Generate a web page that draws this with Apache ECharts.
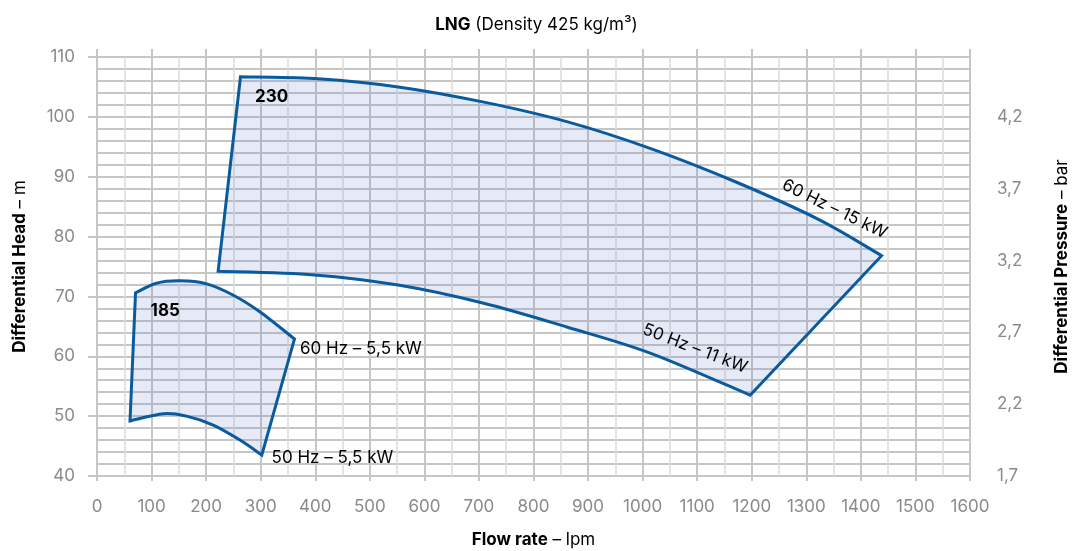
<!DOCTYPE html>
<html>
<head>
<meta charset="utf-8">
<script src="https://cdn.jsdelivr.net/npm/echarts@6/dist/echarts.min.js"></script>
<style>
html,body{margin:0;padding:0;background:#fff;}
#chart{width:1073px;height:551px;}
</style>
</head>
<body>
<div id="chart"></div>
<script>
// ---- data ----
const flowTop230 = [263, 398, 552, 707, 861, 1015, 1169, 1324, 1438];
const headTop230 = [106.7, 106.4, 105.0, 102.5, 99.2, 94.7, 89.2, 82.8, 76.8];
const flowBottom230 = [222, 398, 552, 707, 861, 1015, 1197];
const headBottom230 = [74.2, 73.6, 71.9, 68.9, 64.9, 60.5, 53.5];

const flowTop185 = [70.6, 109, 152, 201, 250, 299, 362];
const headTop185 = [70.6, 72.2, 72.6, 72.1, 70.2, 67.4, 62.9];
const flowBottom185 = [60.5, 122, 164, 213, 262, 302];
const headBottom185 = [49.2, 50.4, 50.0, 48.5, 46.0, 43.5];

const pressureTicks = [1.7, 2.2, 2.7, 3.2, 3.7, 4.2];

const labelTexts = ['230', '185', '60 Hz – 5,5 kW', '50 Hz – 5,5 kW', '60 Hz – 15 kW', '50 Hz – 11 kW'];
const labelFlow = [320, 125, 372, 320, 1352, 1096];
const labelHead = [103.4, 67.6, 61.2, 43.0, 84.6, 61.3];

// ---- helpers ----
const FONT = 'Inter, "Noto Sans", sans-serif';
const GRID_C = '#c6c6c6';
const LINE_C = '#0a5a9e';

function zip(a, b) { return a.map((v, i) => [v, b[i]]); }

function bezierPath(pts) {
  let d = '';
  for (let i = 0; i < pts.length - 1; i++) {
    const p0 = pts[i - 1] || pts[i];
    const p1 = pts[i];
    const p2 = pts[i + 1];
    const p3 = pts[i + 2] || p2;
    const c1 = [p1[0] + (p2[0] - p0[0]) / 6, p1[1] + (p2[1] - p0[1]) / 6];
    const c2 = [p2[0] - (p3[0] - p1[0]) / 6, p2[1] - (p3[1] - p1[1]) / 6];
    d += ' C' + c1[0] + ',' + c1[1] + ' ' + c2[0] + ',' + c2[1] + ' ' + p2[0] + ',' + p2[1];
  }
  return d;
}

function envelopeSeries(topQ, topH, botQ, botH) {
  const top = zip(topQ, topH);
  const bot = zip(botQ, botH);
  return {
    type: 'custom',
    silent: true,
    data: [top[0]],
    renderItem: function (params, api) {
      const tp = top.map(p => api.coord(p));
      const bp = bot.map(p => api.coord(p)).reverse();
      let d = 'M' + tp[0][0] + ',' + tp[0][1];
      d += bezierPath(tp);
      d += ' L' + bp[0][0] + ',' + bp[0][1];
      d += bezierPath(bp);
      d += ' Z';
      return {
        type: 'path',
        shape: { pathData: d },
        style: {
          fill: 'rgba(100,130,200,0.17)',
          stroke: LINE_C,
          lineWidth: 3,
          lineJoin: 'miter'
        }
      };
    }
  };
}

const labelData = labelTexts.map((t, i) => {
  const item = { name: t, value: [labelFlow[i], labelHead[i]] };
  if (i < 2) {
    item.label = { position: 'inside', fontWeight: 'bold', fontSize: 17 };
  } else if (i < 4) {
    item.label = { position: 'right', distance: 0, align: 'left' };
  } else {
    item.label = { position: 'inside', rotate: i === 4 ? -26 : -21 };
  }
  return item;
});

const nameStyle = {
  fontFamily: FONT, fontSize: 17, color: '#000',
  rich: { b: { fontFamily: FONT, fontSize: 17, fontWeight: 'bold', color: '#000' } }
};

const chart = echarts.init(document.getElementById('chart'));
chart.setOption({
  animation: false,
  backgroundColor: '#fff',
  textStyle: { fontFamily: FONT },
  title: {
    text: '{b|LNG} (Density 425 kg/m³)',
    left: 'center',
    top: 11,
    textStyle: {
      fontFamily: FONT, fontSize: 17, fontWeight: 'normal', color: '#000',
      rich: { b: { fontFamily: FONT, fontSize: 17, fontWeight: 'bold', color: '#000' } }
    }
  },
  grid: { left: 97, right: 103, top: 57, bottom: 75, containLabel: false, outerBoundsMode: 'none' },
  xAxis: [{
    type: 'value', min: 0, max: 1600, interval: 100,
    name: '{b|Flow rate} – lpm', nameLocation: 'middle', nameGap: 55,
    nameTextStyle: nameStyle,
    axisLine: { show: false },
    axisTick: { show: true, length: 5, lineStyle: { color: GRID_C, width: 2 } },
    axisLabel: { color: '#8a8a8a', fontSize: 17, margin: 22, fontFamily: FONT, formatter: v => String(v) },
    splitLine: { show: true, lineStyle: { color: GRID_C, width: 2 } },
    minorTick: { show: false, splitNumber: 2 },
    minorSplitLine: { show: true, lineStyle: { color: '#dcdcdc', width: 1.5 } }
  }, {
    type: 'value', min: 0, max: 1600, interval: 100, position: 'top',
    axisLine: { show: false },
    axisTick: { show: true, length: 8, lineStyle: { color: GRID_C, width: 2 } },
    axisLabel: { show: false },
    splitLine: { show: false }
  }],
  yAxis: [{
    type: 'value', min: 40, max: 110, interval: 10,
    name: '{b|Differential Head} – m', nameLocation: 'middle', nameGap: 69, nameRotate: 90,
    nameTextStyle: nameStyle,
    axisLine: { show: false },
    axisTick: { show: true, length: 9, lineStyle: { color: GRID_C, width: 2 } },
    axisLabel: { color: '#8a8a8a', fontSize: 17, margin: 22, fontFamily: FONT, formatter: v => String(v) },
    splitLine: { show: true, lineStyle: { color: GRID_C, width: 2 } },
    minorTick: { show: false, splitNumber: 5 },
    minorSplitLine: { show: true, lineStyle: { color: GRID_C, width: 2 } }
  }, {
    type: 'value', min: 1.7, max: 1.7 + 70 / 24, position: 'right',
    name: '{b|Differential Pressure} – bar', nameLocation: 'middle', nameGap: 83, nameRotate: 90,
    nameTextStyle: nameStyle,
    axisLine: { show: false },
    axisTick: { show: true, length: 6, customValues: pressureTicks, lineStyle: { color: GRID_C, width: 2 } },
    axisLabel: {
      color: '#8a8a8a', fontSize: 17, margin: 27, fontFamily: FONT,
      customValues: pressureTicks,
      formatter: v => Number(v).toFixed(1).replace('.', ',')
    },
    splitLine: { show: false }
  }],
  series: [
    envelopeSeries(flowTop230, headTop230, flowBottom230, headBottom230),
    envelopeSeries(flowTop185, headTop185, flowBottom185, headBottom185),
    {
      type: 'scatter',
      silent: true,
      symbolSize: 0,
      itemStyle: { opacity: 1 },
      data: labelData,
      label: {
        show: true,
        formatter: p => p.name,
        color: '#000',
        opacity: 1,
        fontSize: 17,
        fontFamily: FONT
      },
      labelLayout: { hideOverlap: false },
      z: 5
    }
  ]
});
</script>
</body>
</html>
